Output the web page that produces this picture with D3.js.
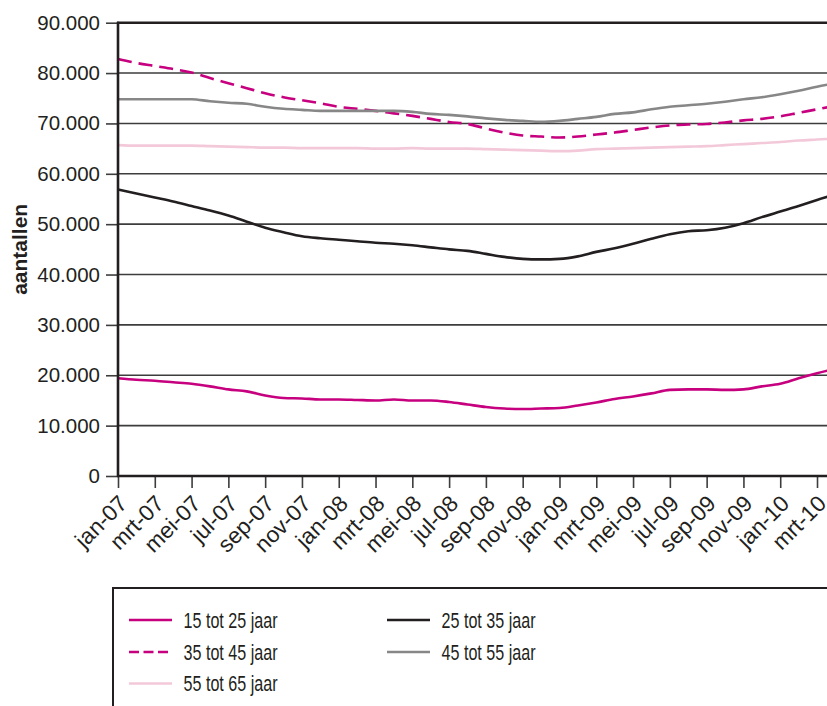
<!DOCTYPE html>
<html>
<head>
<meta charset="utf-8">
<script src="https://cdn.jsdelivr.net/npm/d3@7"></script>
<style>
  body { margin: 0; background: #fff; }
  svg { display: block; font-family: "Liberation Sans", Arial, sans-serif; }
</style>
</head>
<body>
<div id="chart"></div>
<script>
// maanden jan-07 .. apr-10
var months = ["jan-07","feb-07","mrt-07","apr-07","mei-07","jun-07","jul-07","aug-07","sep-07","okt-07","nov-07","dec-07",
  "jan-08","feb-08","mrt-08","apr-08","mei-08","jun-08","jul-08","aug-08","sep-08","okt-08","nov-08","dec-08",
  "jan-09","feb-09","mrt-09","apr-09","mei-09","jun-09","jul-09","aug-09","sep-09","okt-09","nov-09","dec-09",
  "jan-10","feb-10","mrt-10","apr-10"];

var yTicks = [0,10000,20000,30000,40000,50000,60000,70000,80000,90000];

var s15_25 = [19400,19100,18900,18600,18300,17800,17200,16800,16000,15500,15400,15200,15200,15100,15000,15200,15000,15000,14700,14200,13700,13400,13300,13400,13500,14000,14600,15300,15800,16400,17100,17200,17200,17100,17200,17800,18300,19400,20400,21300];
var s25_35 = [56900,56100,55300,54500,53600,52700,51700,50500,49300,48400,47600,47200,46900,46600,46300,46100,45800,45400,45000,44700,44100,43500,43100,43000,43100,43600,44500,45200,46100,47100,48000,48600,48800,49300,50200,51400,52500,53600,54800,55900];
var s35_45 = [82800,82000,81400,80800,80100,79000,78000,77000,76000,75200,74600,74000,73300,72900,72500,72000,71500,70900,70300,69900,69000,68200,67600,67400,67200,67400,67800,68200,68700,69200,69600,69800,69900,70200,70600,70900,71400,72100,72800,73500];
var s45_55 = [74800,74800,74800,74800,74800,74400,74100,73900,73300,72900,72700,72500,72500,72500,72500,72500,72300,71900,71700,71400,71000,70700,70500,70300,70500,70900,71300,71900,72200,72800,73300,73600,73900,74300,74800,75200,75800,76500,77300,78000];
var s55_65 = [65700,65600,65600,65600,65600,65500,65400,65300,65200,65200,65100,65100,65100,65100,65000,65000,65100,65000,65000,65000,64900,64800,64700,64600,64500,64600,64900,65000,65100,65200,65300,65400,65500,65700,65900,66100,66300,66600,66800,67000];

var seriesNames = ["15 tot 25 jaar","25 tot 35 jaar","35 tot 45 jaar","45 tot 55 jaar","55 tot 65 jaar"];
var seriesValues = [s15_25, s25_35, s35_45, s45_55, s55_65];
var seriesColors = ["#c6007e","#231f20","#c6007e","#878787","#f3c9da"];

w = 827
h = 706
var pLeft = 118, pTop = 22.7, pBottom = 476;

var svg = d3.select("#chart")
  .append("svg")
  .attr("width", w)
  .attr("height", h);

// x: last label mrt-10 at ~817, data runs on past the picture edge
var x = d3.scalePoint()
  .domain(months)
  .range([pLeft, pLeft + 18.395 * (months.length - 1)]);

var y = d3.scaleLinear()
  .domain([0, 90000])
  .range([pBottom, pTop]);

var nl = d3.formatLocale({decimal: ",", thousands: ".", grouping: [3], currency: ["€", ""]});
var fmt = nl.format(",");

// gridlines
svg.append("g")
  .selectAll("line")
  .data(yTicks.filter(d => d > 0 && d < 90000))
  .enter()
  .append("line")
  .attr("x1", pLeft)
  .attr("x2", w)
  .attr("y1", d => y(d))
  .attr("y2", d => y(d))
  .attr("stroke", "#3d3d3d")
  .attr("stroke-width", 1.6);

// y axis
var yAxis = svg.append("g")
  .attr("transform", "translate(" + pLeft + ",0)")
  .call(d3.axisLeft(y).tickValues(yTicks).tickFormat(fmt).tickSize(12).tickPadding(6));
yAxis.select(".domain").remove();
yAxis.selectAll(".tick line").attr("stroke", "#3d3d3d").attr("stroke-width", 1.6);
yAxis.selectAll(".tick text").attr("font-size", "20.5px").attr("fill", "#231f20");

// x axis
var xAxis = svg.append("g")
  .attr("transform", "translate(0," + pBottom + ")")
  .call(d3.axisBottom(x).tickValues(months.filter((d, i) => i % 2 == 0 && i < 39)).tickSize(12));
xAxis.select(".domain").remove();
xAxis.selectAll(".tick line").attr("stroke", "#3d3d3d").attr("stroke-width", 1.6);
xAxis.selectAll(".tick text")
  .attr("font-size", "22.5px")
  .attr("fill", "#231f20")
  .attr("text-anchor", "end")
  .attr("y", 0)
  .attr("dy", 0)
  .attr("transform", "translate(10,29) rotate(-45)");

// lines
var line = d3.line()
  .x((d, i) => x(months[i]))
  .y(d => y(d))
  .curve(d3.curveMonotoneX);

svg.append("g")
  .selectAll("path")
  .data(seriesValues)
  .enter()
  .append("path")
  .attr("d", d => line(d))
  .attr("fill", "none")
  .attr("stroke", (d, i) => seriesColors[i])
  .attr("stroke-width", 2.6)
  .attr("stroke-dasharray", (d, i) => i == 2 ? "14,7" : null);

// frame: left axis, bottom axis, top line
svg.append("line").attr("x1", pLeft).attr("x2", pLeft).attr("y1", pTop - 1).attr("y2", pBottom + 1)
  .attr("stroke", "#231f20").attr("stroke-width", 2.6);
svg.append("line").attr("x1", pLeft - 1).attr("x2", w).attr("y1", pBottom).attr("y2", pBottom)
  .attr("stroke", "#231f20").attr("stroke-width", 2.6);
svg.append("line").attr("x1", pLeft - 1).attr("x2", w).attr("y1", pTop).attr("y2", pTop)
  .attr("stroke", "#231f20").attr("stroke-width", 2.6);

// y title
svg.append("text")
  .attr("transform", "translate(27," + ((pTop + pBottom) / 2) + ") rotate(-90)")
  .attr("text-anchor", "middle")
  .attr("font-size", "21px")
  .attr("font-weight", "bold")
  .attr("fill", "#231f20")
  .text("aantallen");

// legend
var lg = svg.append("g").attr("class", "legend");
lg.append("rect")
  .attr("x", 113).attr("y", 588)
  .attr("width", 760).attr("height", 200)
  .attr("fill", "none")
  .attr("stroke", "#231f20")
  .attr("stroke-width", 2);

// order: left column 15-25, 35-45, 55-65; right column 25-35, 45-55
var legendPos = [[129, 620], [387, 620], [129, 652], [387, 652], [129, 683.5]];

var item = lg.selectAll(".item")
  .data(seriesNames)
  .enter()
  .append("g")
  .attr("class", "item")
  .attr("transform", (d, i) => "translate(" + legendPos[i][0] + "," + legendPos[i][1] + ")");

item.append("line")
  .attr("x1", 0).attr("x2", 43)
  .attr("stroke", (d, i) => seriesColors[i])
  .attr("stroke-width", 2.6)
  .attr("stroke-dasharray", (d, i) => i == 2 ? "10,4.5" : null);

// condensed look: squeeze the text horizontally
item.append("text")
  .attr("transform", "translate(54.5,0) scale(0.75,1)")
  .attr("dy", "0.36em")
  .attr("font-size", "21.5px")
  .attr("fill", "#231f20")
  .text(d => d);
</script>
</body>
</html>
